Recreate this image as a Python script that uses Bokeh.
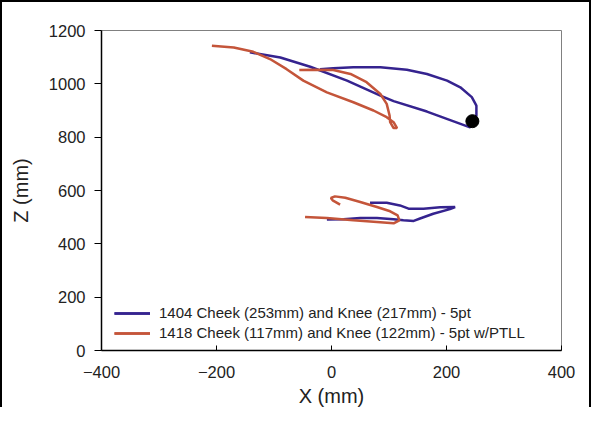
from bokeh.plotting import figure
from bokeh.models import FixedTicker, Range1d
from bokeh.embed import file_html
from bokeh.resources import INLINE

# ---- data ----
blue_upper_x = [-142, -89, -37, 27, 85, 108, 166, 241, 252, 252, 244, 224, 201, 166, 131, 85, 38, 3, -20]
blue_upper_z = [1118, 1099, 1064, 1012, 956, 935, 896, 837, 881, 918, 950, 987, 1012, 1037, 1053, 1062, 1062, 1058, 1055]
blue_lower_x = [67, 96, 119, 134, 160, 189, 215, 206, 177, 154, 143, 125, 108, 79, 50, 21, -8]
blue_lower_z = [554, 554, 544, 532, 532, 537, 538, 530, 513, 495, 486, 488, 492, 497, 497, 492, 491]
orange_upper_x = [-208, -170, -136, -107, -78, -49, -8, 38, 73, 96, 108, 114, 108, 102, 101, 96, 85, 61, 33, 3, -31, -56]
orange_upper_z = [1143, 1136, 1120, 1093, 1055, 1012, 968, 931, 900, 875, 856, 834, 834, 856, 881, 925, 962, 1006, 1037, 1052, 1053, 1052]
orange_lower_x = [15, 2, -1, 6, 24, 50, 79, 102, 115, 118, 108, 79, 38, -8, -46]
orange_lower_z = [547, 563, 572, 578, 573, 557, 538, 522, 507, 488, 477, 482, 488, 497, 501]
start_x = [245]
start_z = [860]

x_ticks = [-400, -200, 0, 200, 400]
z_ticks = [0, 200, 400, 600, 800, 1000, 1200]

label_blue = "1404 Cheek (253mm) and Knee (217mm) - 5pt"
label_orange = "1418 Cheek (117mm) and Knee (122mm) - 5pt w/PTLL"

BLUE = "#35238f"
ORANGE = "#c4553a"
FONT = "Liberation Sans"

p = figure(width=591, height=407, output_backend="svg", toolbar_location=None,
           x_range=Range1d(-400, 400), y_range=Range1d(0, 1200),
           min_border_left=99, min_border_right=32, min_border_top=28, min_border_bottom=56)

p.line(blue_upper_x, blue_upper_z, line_color=BLUE, line_width=2.5, legend_label=label_blue)
p.line(blue_lower_x, blue_lower_z, line_color=BLUE, line_width=2.5, legend_label=label_blue)
p.line(orange_upper_x, orange_upper_z, line_color=ORANGE, line_width=2.5, legend_label=label_orange)
p.line(orange_lower_x, orange_lower_z, line_color=ORANGE, line_width=2.5, legend_label=label_orange)
p.scatter(start_x, start_z, size=13, color="black")

p.grid.visible = False
p.outline_line_color = "#808080"
p.outline_line_width = 1
p.background_fill_color = "white"
p.border_fill_color = "white"

p.xaxis.ticker = FixedTicker(ticks=x_ticks)
p.yaxis.ticker = FixedTicker(ticks=z_ticks)
p.xaxis.axis_label = "X (mm)"
p.yaxis.axis_label = "Z (mm)"
for ax in (p.xaxis, p.yaxis):
    ax.axis_line_color = "black"
    ax.axis_line_width = 1.5
    ax.major_tick_line_color = "black"
    ax.minor_tick_line_color = None
    ax.major_label_text_font = FONT
    ax.major_label_text_font_size = "16.5px"
    ax.major_label_text_color = "#222222"
    ax.axis_label_text_font = FONT
    ax.axis_label_text_font_size = "20px"
    ax.axis_label_text_font_style = "normal"
    ax.axis_label_text_color = "#222222"
p.yaxis.major_tick_out = 7
p.yaxis.major_tick_in = 0
p.yaxis.major_label_standoff = 9
p.yaxis.axis_label_standoff = 14
p.xaxis.major_tick_out = 0
p.xaxis.major_tick_in = 5
p.xaxis.major_label_standoff = 15
p.xaxis.axis_label_standoff = 4

lg = p.legend[0]
lg.location = (13, 9)
lg.padding = 0
lg.margin = 0
lg.spacing = 3
lg.glyph_width = 36
lg.glyph_height = 16
lg.label_height = 16
lg.label_standoff = 9
lg.label_text_font = FONT
lg.label_text_font_size = "15px"
lg.label_text_color = "#222222"
lg.border_line_color = None
lg.background_fill_alpha = 0

p.styles = {"border-left": "2px solid black", "border-top": "2px solid black",
            "border-right": "2px solid black"}

open("out.html", "w").write(file_html(p, INLINE))
